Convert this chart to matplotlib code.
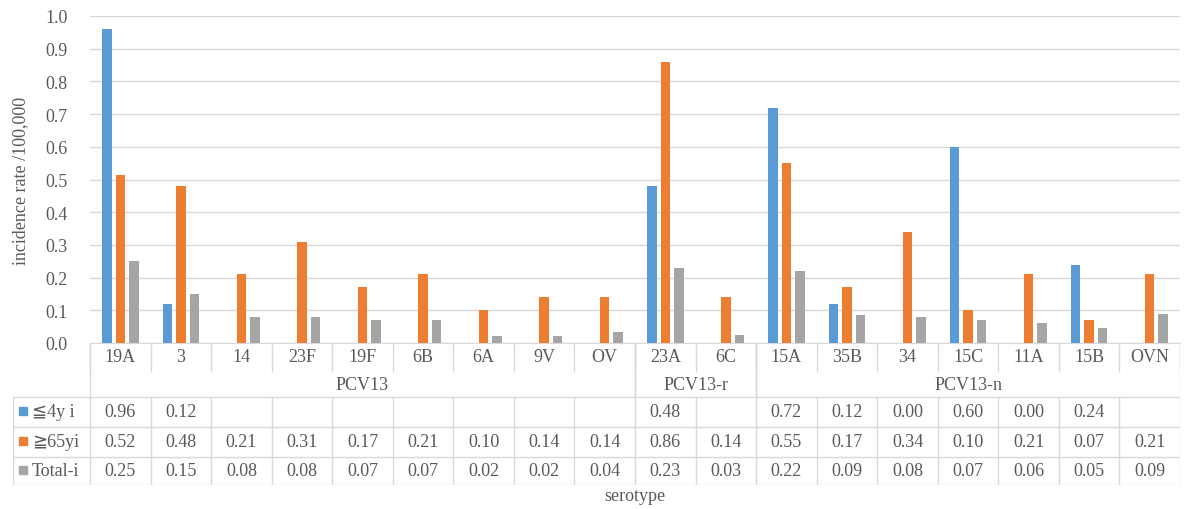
import numpy as np
import matplotlib.pyplot as plt

# data
serotypes = ['19A', '3', '14', '23F', '19F', '6B', '6A', '9V', 'OV',
             '23A', '6C',
             '15A', '35B', '34', '15C', '11A', '15B', 'OVN']
groups = [('PCV13', 0, 8), ('PCV13-r', 9, 10), ('PCV13-n', 11, 17)]
series_names = ['≦4y i', '≧65yi', 'Total-i']
under4 = [0.96, 0.12, None, None, None, None, None, None, None,
          0.48, None,
          0.72, 0.12, 0.00, 0.60, 0.00, 0.24, None]
over65 = [0.515, 0.48, 0.21, 0.31, 0.17, 0.21, 0.10, 0.14, 0.14,
          0.86, 0.14,
          0.55, 0.17, 0.34, 0.10, 0.21, 0.07, 0.21]
total = [0.25, 0.15, 0.08, 0.08, 0.07, 0.07, 0.02, 0.02, 0.035,
         0.23, 0.025,
         0.22, 0.085, 0.08, 0.07, 0.06, 0.045, 0.09]
# table shows values rounded to 2 decimals
tbl_under4 = under4
tbl_over65 = [0.52, 0.48, 0.21, 0.31, 0.17, 0.21, 0.10, 0.14, 0.14,
              0.86, 0.14,
              0.55, 0.17, 0.34, 0.10, 0.21, 0.07, 0.21]
tbl_total = [0.25, 0.15, 0.08, 0.08, 0.07, 0.07, 0.02, 0.02, 0.04,
             0.23, 0.03,
             0.22, 0.09, 0.08, 0.07, 0.06, 0.05, 0.09]
colors = ['#5B9BD5', '#ED7D31', '#A5A5A5']

plt.rcParams['font.family'] = ['Liberation Serif', 'DejaVu Sans']
txt = '#595959'
grid = '#D9D9D9'
fs = 13
W, H = 1184, 510

fig = plt.figure(figsize=(W / 100, H / 100), dpi=100)

# pixel layout
x0, x1 = 90, 1180      # plot area
y_top, y_axis = 17, 344
leg_left = 13
rows = [344, 372, 398, 428, 458, 486]

ax = fig.add_axes([x0 / W, 1 - y_axis / H, (x1 - x0) / W, (y_axis - y_top) / H])
n = len(serotypes)
idx = np.arange(n)
offs = [-0.223, 0, 0.223]
for s, vals in enumerate([under4, over65, total]):
    v = np.array([np.nan if a is None else a for a in vals])
    ax.bar(idx + offs[s], v, width=0.157, color=colors[s], zorder=3)
ax.set_xlim(-0.5, n - 0.5)
ax.set_ylim(0, 1.0)
ax.set_yticks(np.arange(0, 1.01, 0.1))
ax.set_yticklabels([f'{t:.1f}' for t in np.arange(0, 1.01, 0.1)])
ax.tick_params(axis='y', length=0, pad=16, labelsize=fs, labelcolor=txt)
ax.set_xticks([])
ax.yaxis.grid(True, color=grid, lw=1, zorder=0)
for sp in ['top', 'right', 'left']:
    ax.spines[sp].set_visible(False)
ax.spines['bottom'].set_color(grid)
ax.set_ylabel('incidence rate /100,000', fontsize=fs, color=txt, labelpad=12)

# data table below the plot
cw = (x1 - x0) / n
tx = fig.add_axes([leg_left / W, 1 - rows[-1] / H, (x1 - leg_left) / W, (rows[-1] - rows[0]) / H])
xl = -0.5 - (x0 - leg_left) / cw
tx.set_xlim(xl, n - 0.5)
tx.set_ylim(rows[-1], rows[0])
tx.axis('off')

lk = dict(color=grid, lw=1)
# category separators in tick row
for b in np.arange(-0.5, n, 1.0):
    tx.plot([b, b], [rows[0], rows[1]], **lk)
# group separators
for g, a, b in groups:
    for e in (a - 0.5, b + 0.5):
        tx.plot([e, e], [rows[0], rows[2]], **lk)
    tx.text((a + b) / 2, (rows[1] + rows[2]) / 2 + 1, g, ha='center', va='center',
            fontsize=fs, color=txt)
for i, s in enumerate(serotypes):
    tx.text(i, (rows[0] + rows[1]) / 2, s, ha='center', va='center', fontsize=fs, color=txt)
# data rows grid
for y in rows[2:]:
    tx.plot([xl, n - 0.5], [y, y], **lk)
for b in list(np.arange(-0.5, n, 1.0)) + [xl]:
    tx.plot([b, b], [rows[2], rows[-1]], **lk)

for r, vals in enumerate([tbl_under4, tbl_over65, tbl_total]):
    yc = (rows[2 + r] + rows[3 + r]) / 2
    for i, v in enumerate(vals):
        if v is not None:
            tx.text(i, yc, f'{v:.2f}', ha='center', va='center', fontsize=fs, color=txt)
    tx.plot([xl + 10 / cw], [yc - 1], marker='s', ms=6, color=colors[r], ls='none')
    tx.text(xl + 19 / cw, yc, series_names[r], ha='left', va='center', fontsize=fs, color=txt)

fig.text((x0 + x1) / 2 / W, 1 - 497 / H, 'serotype', ha='center', va='center',
         fontsize=fs, color=txt)

fig.savefig('out.png', dpi=100)
